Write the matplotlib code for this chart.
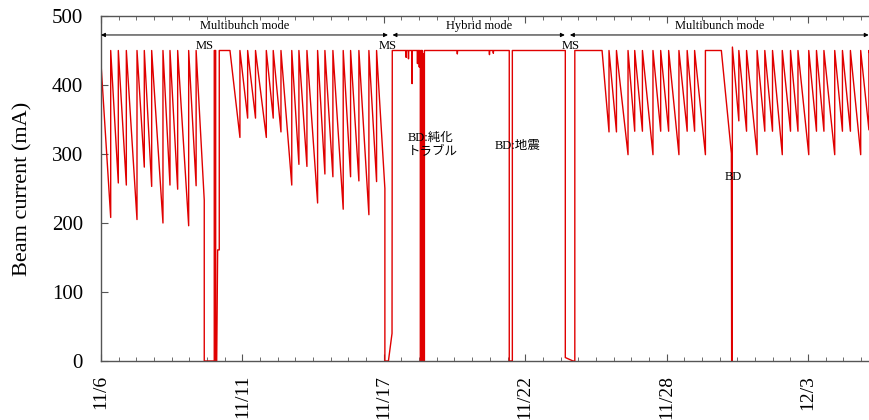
import matplotlib
matplotlib.use('Agg')
import matplotlib.pyplot as plt
from matplotlib.ticker import MultipleLocator

# time in days from 11/6 0:00, beam current in mA
# multibunch mode, first run
t_mb1 = [0.00, 0.377, 0.377, 0.673, 0.673, 0.985, 0.985, 1.40, 1.40, 1.684, 1.684,
         1.971, 1.971, 2.41, 2.41, 2.683, 2.683, 2.982, 2.982, 3.41, 3.41, 3.70, 3.70,
         4.016, 4.016, 4.405, 4.405, 4.46, 4.46, 4.50, 4.537, 4.60, 4.60, 5.016,
         5.404, 5.404, 5.704, 5.704, 6.01, 6.01, 6.43, 6.43, 6.699, 6.699, 7.00, 7.00,
         7.42, 7.42, 7.698, 7.698, 8.01, 8.01, 8.425, 8.425, 8.709, 8.709, 9.02, 9.02,
         9.421, 9.421, 9.708, 9.708, 10.031, 10.031, 10.42, 10.42, 10.719, 10.719,
         11.042, 11.042, 11.18, 11.32]
i_mb1 = [431, 208, 450, 258, 450, 255, 450, 205, 450, 281, 450,
         253, 450, 200, 450, 255, 450, 249, 450, 196, 450, 254, 450,
         233, 0, 0, 450, 450, 0, 0, 161, 161, 450, 450,
         324, 450, 352, 450, 352, 450, 324, 450, 352, 450, 332, 450,
         255, 450, 285, 450, 282, 450, 229, 450, 271, 450, 267, 450,
         220, 450, 267, 450, 261, 450, 212, 450, 260, 450,
         250, 0, 0, 40]

# hybrid mode
t_hyb = [11.33, 11.86, 11.87, 11.88, 11.95, 11.96, 11.97, 12.09, 12.10, 12.11,
         12.30, 12.31, 12.32, 12.37, 12.38, 12.39, 12.42, 12.42, 12.45, 12.45,
         12.50, 12.50, 12.53, 12.53, 12.56, 12.56, 12.58, 12.58, 13.85, 13.86,
         13.87, 15.10, 15.11, 15.12, 15.25, 15.26, 15.27, 15.88, 15.88, 16.00,
         16.00, 18.06, 18.06, 18.36, 18.43]
i_hyb = [450, 450, 440, 450, 450, 438, 450, 450, 402, 450,
         450, 431, 450, 450, 426, 450, 450, 0, 0, 450,
         450, 0, 0, 445, 445, 0, 0, 450, 450, 445,
         450, 450, 444, 450, 450, 446, 450, 450, 0, 0,
         450, 450, 5, 0, 0]

# multibunch mode, second run
t_mb2 = [18.43, 19.49, 19.76, 19.76, 20.05, 20.05, 20.50, 20.50, 20.76, 20.76,
         21.06, 21.06, 21.47, 21.47, 21.77, 21.77, 22.08, 22.08, 22.48, 22.48,
         22.80, 22.80, 23.09, 23.09, 23.51, 23.51, 24.13, 24.52, 24.53, 24.55,
         24.56, 24.81, 24.81, 25.11, 25.11, 25.52, 25.52, 25.82, 25.82, 26.12,
         26.12, 26.50, 26.50, 26.82, 26.82, 27.11, 27.11, 27.53, 27.53, 27.83,
         27.83, 28.12, 28.12, 28.54, 28.54, 28.84, 28.84, 29.15, 29.15, 29.55,
         29.55, 29.87, 29.87, 30.0]
i_mb2 = [450, 450, 332, 450, 332, 450, 299, 450, 333, 450,
         333, 450, 299, 450, 333, 450, 333, 450, 299, 450,
         333, 450, 333, 450, 299, 450, 450, 301, 0, 0,
         455, 348, 450, 333, 450, 299, 450, 333, 450, 333,
         450, 299, 450, 333, 450, 333, 450, 299, 450, 333,
         450, 333, 450, 299, 450, 333, 450, 333, 450, 299,
         450, 335, 450, 432]

tick_days = [0, 5.5, 11, 16.5, 22, 27.5]
tick_labels = ['11/6', '11/11', '11/17', '11/22', '11/28', '12/3']

# (start, end, label)
modes = [(0.0, 11.16, 'Multibunch mode'),
         (11.34, 18.04, 'Hybrid mode'),
         (18.24, 29.86, 'Multibunch mode')]
ms_days = [4.04, 11.16, 18.28]
notes = [(11.92, 313, 'BD:純化\nトラブル', 'left'),
         (15.32, 312, 'BD:地震', 'left'),
         (24.60, 266, 'BD', 'center')]

serif = ['Liberation Serif', 'DejaVu Serif']
jp = ['Liberation Serif', 'Noto Sans CJK JP', 'DejaVu Sans']
plt.rcParams['font.family'] = serif

fig = plt.figure(figsize=(8.7, 4.2), dpi=100)
ax = fig.add_axes([0.1161, 0.1405, 0.8865, 0.8214])

# one continuous trace through all three runs
t_all = t_mb1 + t_hyb + t_mb2
i_all = i_mb1 + i_hyb + i_mb2
ax.plot(t_all, i_all, color='#e00000', lw=1.0)

for x0, x1, lab in modes:
    ax.annotate('', xy=(x1, 472.5), xytext=(x0, 472.5),
                arrowprops=dict(arrowstyle='<|-|>', color='black', lw=0.7,
                                mutation_scale=6, shrinkA=0, shrinkB=0))
    ax.text((x0 + x1) / 2, 485, lab, ha='center', va='center', fontsize=9)
for d in ms_days:
    ax.text(d, 457, 'MS', ha='center', va='center', fontsize=9)
for x, y, lab, ha in notes:
    ax.text(x, y, lab, ha=ha, va='center', fontsize=9, family=jp,
            linespacing=1.25)

ax.set_xlim(0, 30)
ax.set_ylim(0, 500)
ax.set_xticks(tick_days)
ax.set_xticklabels(tick_labels, rotation=90, fontsize=14)
ax.xaxis.set_minor_locator(MultipleLocator(5.5 / 8))
ax.set_yticks([0, 100, 200, 300, 400, 500])
ax.tick_params(axis='y', labelsize=15, pad=13)
ax.tick_params(axis='x', pad=10)
ax.tick_params(which='both', direction='in', top=True, right=False, color='#555555')
ax.tick_params(which='major', length=5)
ax.tick_params(which='minor', length=3)
for s in ax.spines.values():
    s.set_color('#555555')
    s.set_linewidth(1.0)
ax.set_ylabel('Beam current (mA)', fontsize=16, labelpad=14)

fig.savefig('out.png', dpi=100)
